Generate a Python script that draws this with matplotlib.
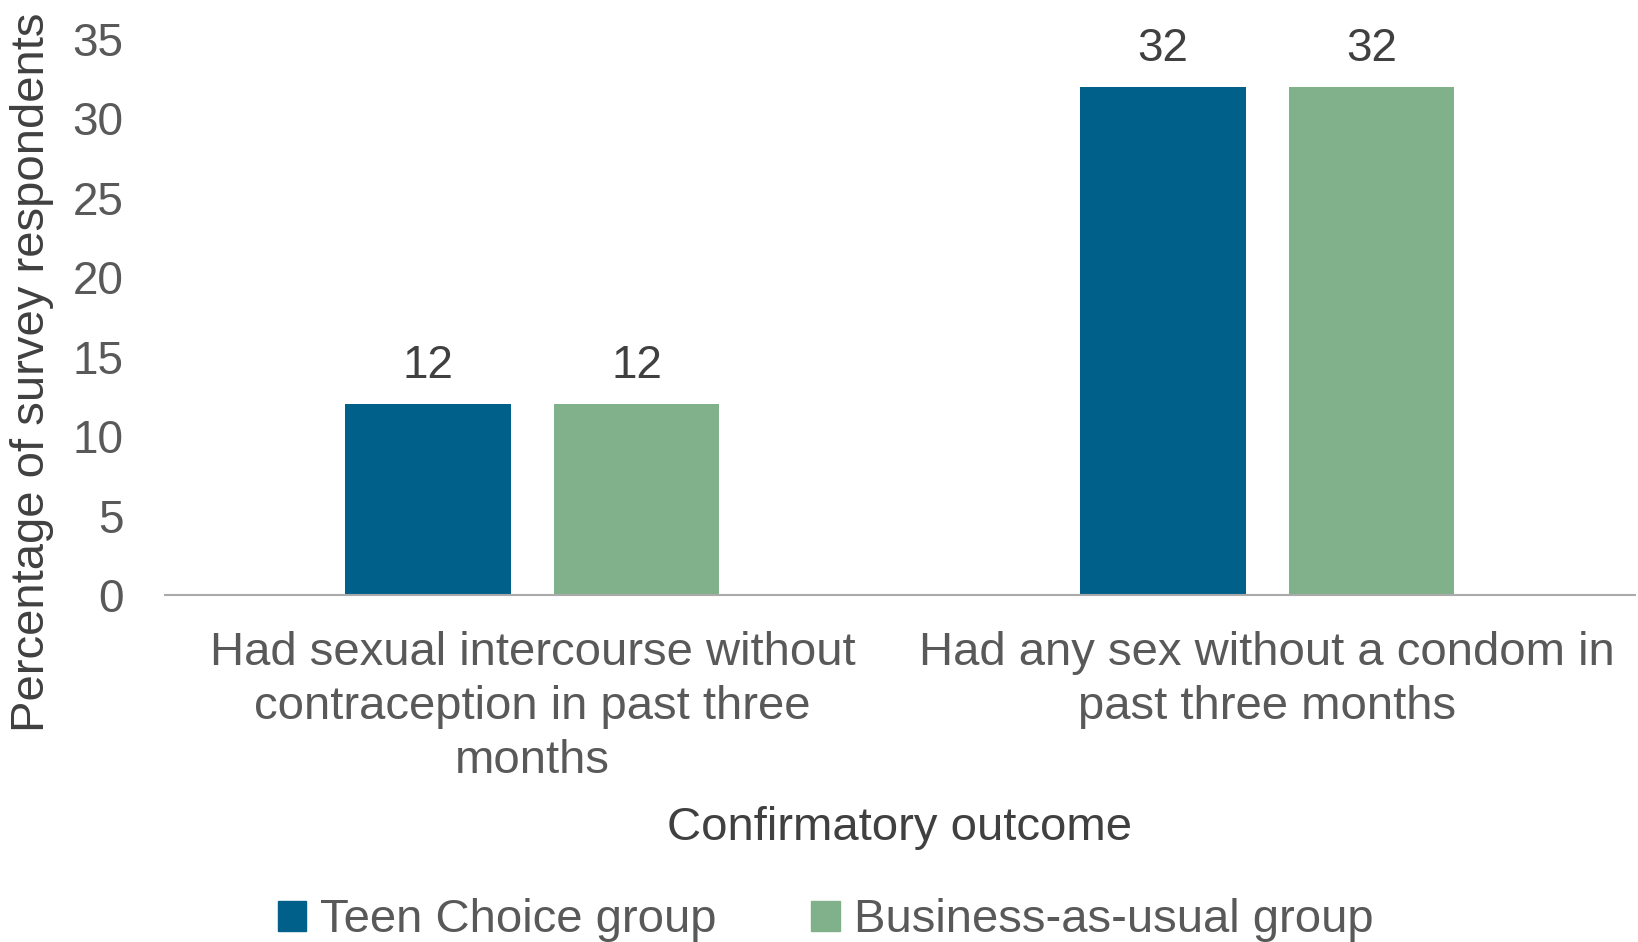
import numpy as np
import matplotlib.pyplot as plt
from matplotlib.patches import Patch

# -----------------------------
# DATA
# -----------------------------
categories = [
    "Had sexual intercourse without\ncontraception in past three\nmonths",
    "Had any sex without a condom in\npast three months",
]
series_names = ["Teen Choice group", "Business-as-usual group"]
teen_choice = [12, 32]
business_as_usual = [12, 32]

colors = ["#00608A", "#80B18B"]
text_grey = "#595959"
FS = 34

plt.rcParams["font.family"] = ["Liberation Sans", "DejaVu Sans"]

fig = plt.figure(figsize=(16.38, 9.42), dpi=100)
ax = fig.add_axes([0.1007, 0.3684, 0.8973, 0.5902])

x = np.arange(len(categories))
width = 0.225
offset = 0.142

b1 = ax.bar(x - offset, teen_choice, width, color=colors[0])
b2 = ax.bar(x + offset, business_as_usual, width, color=colors[1])

# value labels
for bars in (b1, b2):
    for rect in bars:
        h = rect.get_height()
        ax.text(rect.get_x() + rect.get_width() / 2, h + 1.0, f"{h:g}",
                ha="center", va="bottom", fontsize=FS - 1, color="#404040")

ax.set_xlim(-0.5, 1.5)
ax.set_ylim(0, 35)
ax.set_yticks(range(0, 36, 5))
ax.set_xticks(x)
ax.set_xticklabels(categories, fontsize=FS, color=text_grey, linespacing=1.3)
ax.tick_params(axis="y", labelsize=FS - 1, labelcolor=text_grey, length=0, pad=30)
ax.tick_params(axis="x", length=0, pad=26)

for side in ["top", "right", "left"]:
    ax.spines[side].set_visible(False)
ax.spines["bottom"].set_color("#AAAAAA")
ax.spines["bottom"].set_linewidth(1.5)

ax.set_ylabel("Percentage of survey respondents", fontsize=FS, color="#404040")
ax.yaxis.set_label_coords(-0.0755, 0.40)
ax.set_xlabel("Confirmatory outcome", fontsize=FS, color="#404040")
ax.xaxis.set_label_coords(0.5, -0.38)

handles = [Patch(color=c) for c in colors]
fig.legend(handles, series_names, loc="center", bbox_to_anchor=(0.504, 0.023),
           ncol=2, frameon=False, fontsize=FS, labelcolor=text_grey,
           handlelength=0.6, handleheight=0.6, handletextpad=0.3,
           columnspacing=2.0)

fig.savefig("out.png", dpi=100)
